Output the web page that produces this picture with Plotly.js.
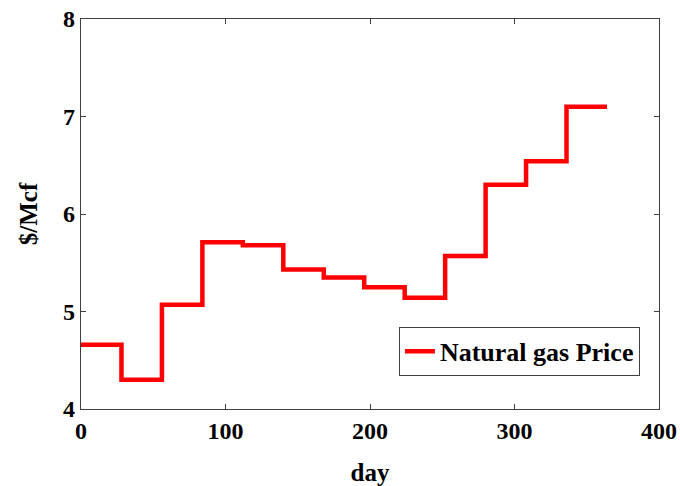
<!DOCTYPE html>
<html>
<head>
<meta charset="utf-8">
<script src="https://cdn.plot.ly/plotly-3.0.1.min.js"></script>
<style>html,body{margin:0;padding:0;background:#fff;}#chart{width:680px;height:486px;}</style>
</head>
<body>
<div id="chart"></div>
<script>
// Step start days (28-day periods) and price for each period ($/Mcf)
const stepDays = [0, 28, 56, 84, 112, 140, 168, 196, 224, 252, 280, 308, 336, 364];
const gasPrice = [4.66, 4.30, 5.07, 5.71, 5.68, 5.43, 5.35, 5.25, 5.14, 5.57, 6.30, 6.54, 7.10, 7.10];
const xTicks = [0, 100, 200, 300, 400];
const yTicks = [4, 5, 6, 7, 8];
const seriesName = 'Natural gas Price';

const font = {family: '"Liberation Serif", "Times New Roman", serif', color: '#000'};
const tickFont = Object.assign({}, font, {size: 24, weight: 'bold'});
const titleFont = Object.assign({}, font, {size: 25, weight: 'bold'});

const trace = {
  x: stepDays,
  y: gasPrice,
  mode: 'lines',
  line: {shape: 'hv', color: '#ff0000', width: 4.5},
  name: seriesName,
  showlegend: true
};

const axisCommon = {
  showline: true, linecolor: '#404040', linewidth: 1.2, mirror: 'ticks',
  ticks: 'inside', ticklen: 5, tickcolor: '#404040', tickwidth: 1,
  showgrid: false, zeroline: false, tickfont: tickFont
};

const layout = {
  width: 680, height: 486,
  margin: {l: 81, r: 21, t: 19, b: 77},
  paper_bgcolor: '#fff', plot_bgcolor: '#fff',
  font: font,
  showlegend: true,
  xaxis: Object.assign({}, axisCommon, {
    range: [0, 400], tickvals: xTicks, ticktext: xTicks.map(String),
    title: {text: 'day', font: titleFont, standoff: 22}
  }),
  yaxis: Object.assign({}, axisCommon, {
    range: [4, 8], tickvals: yTicks, ticktext: yTicks.map(String),
    title: {text: '$/Mcf', font: titleFont, standoff: 18}
  }),
  legend: {
    x: 0.967, y: 0.085, xanchor: 'right', yanchor: 'bottom',
    bgcolor: '#fff', bordercolor: '#404040', borderwidth: 1,
    font: Object.assign({}, font, {size: 26, weight: 'bold'})
  }
};

Plotly.newPlot('chart', [trace], layout, {displayModeBar: false, staticPlot: true});
</script>
</body>
</html>
